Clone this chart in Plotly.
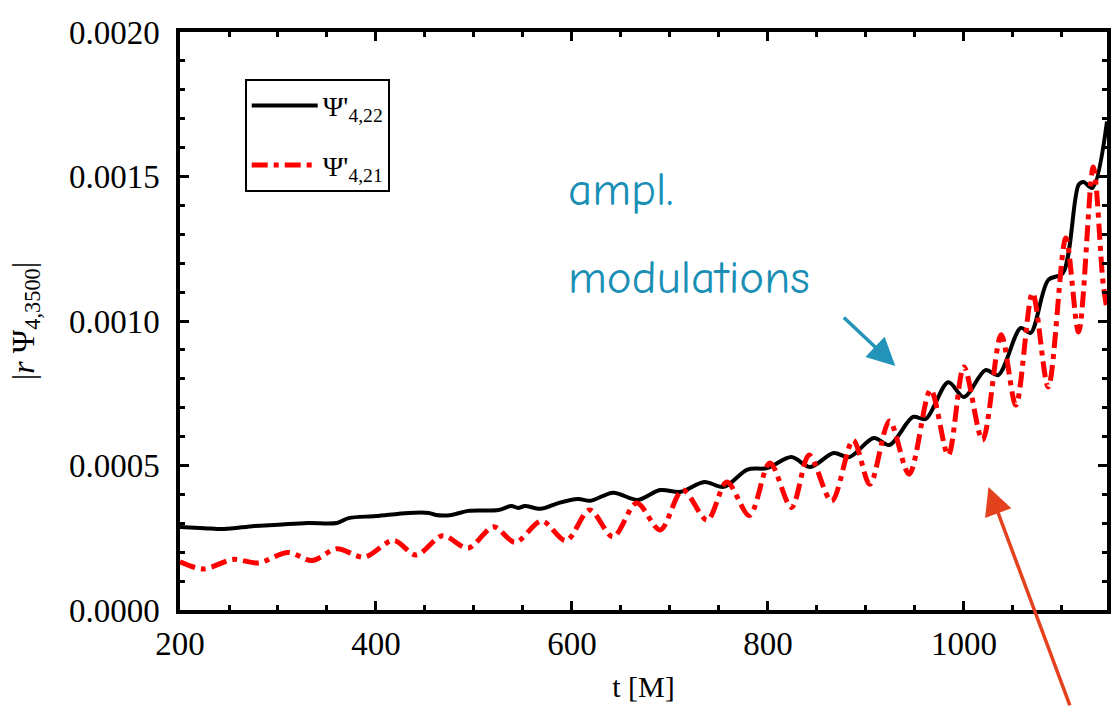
import plotly.graph_objects as go

# ---- data ----
# |r Psi'_{4,22}|  (black solid)
t_22 = [200, 225, 245, 276, 300, 330, 360, 372, 400, 433, 454, 461, 477, 494, 525,
        538, 545, 552, 568, 586, 606, 619, 642, 667, 690, 711, 735, 755, 779, 799,
        824, 843, 867, 883, 908, 924, 948, 961, 984, 1000, 1022, 1035, 1058, 1068,
        1086, 1101, 1117, 1122, 1131, 1146]
v_22 = [2.87e-4, 2.83e-4, 2.80e-4, 2.91e-4, 2.95e-4, 3.01e-4, 3.01e-4, 3.18e-4, 3.25e-4,
        3.36e-4, 3.36e-4, 3.29e-4, 3.29e-4, 3.43e-4, 3.46e-4, 3.60e-4, 3.53e-4, 3.60e-4,
        3.50e-4, 3.70e-4, 3.84e-4, 3.78e-4, 4.06e-4, 3.81e-4, 4.15e-4, 4.09e-4, 4.43e-4,
        4.26e-4, 4.86e-4, 4.91e-4, 5.29e-4, 4.95e-4, 5.43e-4, 5.29e-4, 5.95e-4, 5.71e-4,
        6.68e-4, 6.61e-4, 7.88e-4, 7.37e-4, 8.30e-4, 8.13e-4, 9.76e-4, 9.59e-4, 11.42e-4,
        11.66e-4, 14.71e-4, 14.81e-4, 14.60e-4, 16.90e-4]

# |r Psi'_{4,21}|  (red dash-dot)
t_21 = [200, 224, 254, 280, 310, 335, 360, 388, 418, 441, 468, 494, 520, 542, 569,
        594, 618, 642, 666, 690, 713, 738, 758, 781, 802, 824, 842, 865, 887, 904,
        924, 944, 966, 984, 1000, 1019, 1038, 1053, 1070, 1086, 1104, 1117, 1132,
        1142, 1146]
v_21 = [1.67e-4, 1.42e-4, 1.75e-4, 1.63e-4, 1.99e-4, 1.71e-4, 2.12e-4, 1.83e-4, 2.41e-4,
        1.90e-4, 2.57e-4, 2.14e-4, 2.88e-4, 2.34e-4, 3.08e-4, 2.40e-4, 3.46e-4, 2.53e-4,
        3.70e-4, 2.77e-4, 4.15e-4, 3.11e-4, 4.43e-4, 3.27e-4, 5.09e-4, 3.55e-4, 5.36e-4,
        3.77e-4, 5.88e-4, 4.35e-4, 6.54e-4, 4.70e-4, 7.62e-4, 5.36e-4, 8.41e-4, 5.88e-4,
        9.52e-4, 7.09e-4, 10.97e-4, 7.72e-4, 12.87e-4, 9.62e-4, 15.33e-4, 11.30e-4,
        10.40e-4]

x_range = [200, 1146]
y_range = [0.0, 0.0020]
x_major, x_minor = 200, 50
y_major, y_minor = 0.0005, 0.0001

serif = "Liberation Serif, Times New Roman, serif"
hand = "Comic Sans MS, Comic Neue, Lato, sans-serif"

fig = go.Figure()
fig.add_trace(go.Scatter(
    x=t_22, y=v_22, mode="lines", name="Ψ'<sub>4,22</sub>", legendgroup="a",
    line=dict(color="black", width=4, shape="spline", smoothing=0.9)))
fig.add_trace(go.Scatter(
    x=t_21, y=v_21, mode="lines", name="Ψ'<sub>4,21</sub>", legendgroup="b",
    line=dict(color="#ff0000", width=5, dash="16px,6px,5px,6px",
              shape="spline", smoothing=0.9)))

axis_common = dict(
    showline=True, linewidth=3.5, linecolor="black", mirror="ticks",
    ticks="inside", ticklen=9, tickwidth=3, tickcolor="black",
    showgrid=False, zeroline=False,
    tickfont=dict(family=serif, size=33, color="black"),
)

fig.update_layout(
    width=1111, height=710,
    margin=dict(l=180, r=0, t=32, b=100),
    paper_bgcolor="white", plot_bgcolor="white",
    xaxis=dict(range=x_range, tick0=200, dtick=x_major,
               minor=dict(dtick=x_minor, ticks="inside", ticklen=5, tickwidth=3,
                          tickcolor="black", showgrid=False),
               title=dict(text="t [M]", font=dict(family=serif, size=30, color="black"),
                          standoff=16),
               ticklabelstandoff=2,
               **axis_common),
    yaxis=dict(range=y_range, tick0=0, dtick=y_major, tickformat=".4f",
               minor=dict(dtick=y_minor, ticks="inside", ticklen=5, tickwidth=3,
                          tickcolor="black", showgrid=False),
               title=dict(text="|<i>r</i> Ψ<sub>4,3500</sub>|",
                          font=dict(family=serif, size=32, color="black"),
                          standoff=26),
               ticklabelstandoff=10,
               **axis_common),
    legend=dict(x=0.0698, y=0.919, xanchor="left", yanchor="top",
                bordercolor="black", borderwidth=2, bgcolor="white",
                font=dict(family=serif, size=28, color="black"),
                tracegroupgap=20, itemwidth=66),
    showlegend=True,
    annotations=[
        dict(text="ampl.", xref="paper", yref="paper",
             x=(568 - 180) / 931, y=(610 - 190) / 578, xanchor="left", yanchor="middle",
             showarrow=False, font=dict(family=hand, size=47, color="#1a8fb6")),
        dict(text="modulations", xref="paper", yref="paper",
             x=(568 - 180) / 931, y=(610 - 278) / 578, xanchor="left", yanchor="middle",
             showarrow=False, font=dict(family=hand, size=47, color="#1a8fb6")),
        dict(text="", x=930, y=0.000844, xref="x", yref="y", ax=-53, ay=-50,
             showarrow=True, arrowhead=2, arrowsize=1.6, arrowwidth=3.5,
             arrowcolor="#2393b9", standoff=0),
        dict(text="", x=1025, y=0.000426, xref="x", yref="y", ax=82, ay=220,
             showarrow=True, arrowhead=2, arrowsize=1.6, arrowwidth=3.5,
             arrowcolor="#e4421e", standoff=0),
    ],
)

fig.write_html("out.html")
